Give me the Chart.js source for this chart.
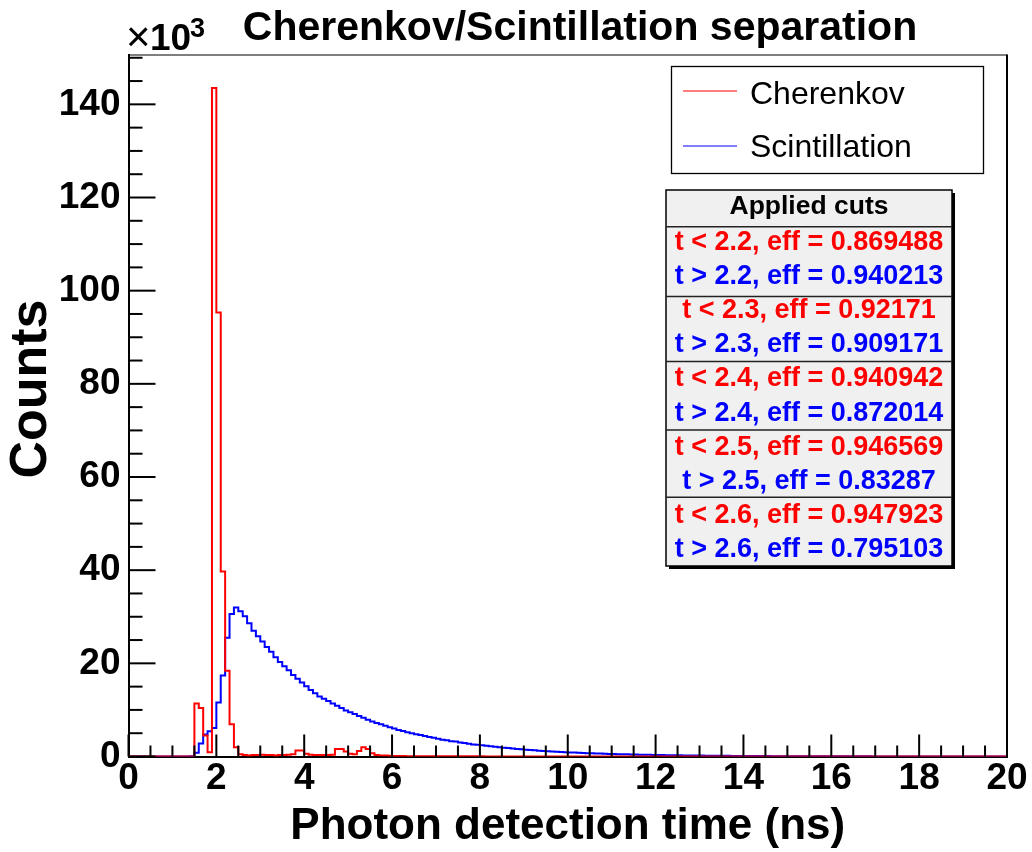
<!DOCTYPE html>
<html><head><meta charset="utf-8">
<script src="https://cdn.jsdelivr.net/npm/chart.js@4.4.0/dist/chart.umd.min.js"></script>
<style>html,body{margin:0;padding:0;background:#fff;overflow:hidden}</style>
</head><body>
<canvas id="c" width="1032" height="852" style="display:block;width:1032px;height:852px"></canvas>
<script>
// ---- data (counts in units of 10^3, 0.1 ns bins starting at 0 ns) ----
const binLow = 0;
const binWidth = 0.1;
const cherenkov = [
0,0,0,0,0,0,0,0,0,0,0,0,0,0,0,
11.4,10.4,4.5,0.9,143.5,95.3,39.7,18.4,6.9,2.0,0.5,
0.3,0.2,0.3,0.3,0.4,0.3,0.3,0.2,0.3,0.3,
0.4,0.5,1.3,1.3,0.6,0.4,0.3,0.3,0.3,0.3,
0.4,1.6,1.6,1.1,0.6,0.5,1.2,2.0,1.6,0.7,
0.3,0.2,0.2,0.15,0.1,
0.1,0.1,0.08,0.08,0.07,0.06,0.05,0.05,0.04,0.04,
0.03,0.03,0.03,0.03,0.03,0.03,0.03,0.03,0.03,0.03,
0.02,0.02,0.02,0.02,0.02,0.02,0.02,0.02,0.02,0.02,0.02,0.02,0.02,0.02,0.02,0.02,0.02,0.02,0.02,0.02,
0.01,0.01,0.01,0.01,0.01,0.01,0.01,0.01,0.01,0.01,0.01,0.01,0.01,0.01,0.01,0.01,0.01,0.01,0.01,0.01,0.01,0.01,0.01,0.01,0.01,0.01,0.01,0.01,0.01,0.01,
0,0,0,0,0,0,0,0,0,0,0,0,0,0,0,0,0,0,0,0,0,0,0,0,0,0,0,0,0,0,0,0,0,0,0,0,0,0,0,0,0,0,0,0,0,0,0,0,0,0,0,0,0,0,0,0,0,0,0,0,0,0,0,0,0,0,0,0,0
];
const scintillation = [
0,0,0,0,0,0,0,0,0,0,0,0,0,0,
0.05,
0.8,2.8,4.7,5.4,6.1,11.6,17.4,25.5,30.6,
32.0,31.2,30.1,28.6,27.0,25.8,24.7,23.5,22.5,21.3,20.3,19.4,18.5,17.5,16.7,15.9,15.1,14.3,13.6,12.9,12.4,11.9,
11.4,10.9,10.4,9.9,9.5,9.1,8.7,8.3,7.9,7.5,7.2,6.9,6.6,6.3,6.0,
5.7,5.5,5.2,5.0,4.8,4.6,4.4,4.2,4.0,3.8,3.6,3.5,3.3,3.2,3.0,2.9,2.75,2.6,2.5,2.4,
2.3,2.2,2.1,2.0,1.9,1.8,1.7,1.6,1.55,1.45,1.4,1.33,1.26,1.2,1.14,1.08,1.03,0.98,0.93,0.88,
0.84,0.8,0.76,0.72,0.68,0.65,0.62,0.59,0.56,0.53,0.5,0.48,0.46,0.43,0.41,0.39,0.37,0.35,0.33,0.32,
0.3,0.29,0.27,0.26,0.25,0.23,0.22,0.21,0.2,0.19,0.18,0.17,0.16,0.155,0.15,0.14,0.13,0.125,0.12,0.11,
0.105,0.1,0.095,0.09,0.085,0.08,0.077,0.073,0.07,0.066,
0.063,0.06,0.057,0.054,0.051,0.049,0.046,0.044,0.042,0.04,
0.038,0.036,0.034,0.033,0.031,0.03,0.028,0.027,0.025,0.024,
0.023,0.022,0.021,0.02,0.019,0.018,0.017,0.016,0.015,0.015,
0.014,0.013,0.013,0.012,0.011,0.011,0.01,0.01,0.009,0.009,
0.008,0.008,0.008,0.007,0.007,0.006,0.006,0.006,0.005
];
const xTickLabels = [0,2,4,6,8,10,12,14,16,18,20];
const yTickLabels = [0,20,40,60,80,100,120,140];
const seriesNames = ['Cherenkov','Scintillation'];
const cutTimes = ['2.2','2.3','2.4','2.5','2.6'];
const cherenkovEff = ['0.869488','0.92171','0.940942','0.946569','0.947923'];
const scintillationEff = ['0.940213','0.909171','0.872014','0.83287','0.795103'];

// ---- styling ----
const FAM = '"Liberation Sans", Arial, Helvetica, sans-serif';
const RED = '#ff0000', BLUE = '#0000ff';

function histPoints(vals){
  const pts = vals.map((v,i)=>({x: binLow + i*binWidth, y: v}));
  pts.push({x: binLow + vals.length*binWidth, y: vals[vals.length-1]});
  return pts;
}

const decor = {
  id: 'decor',
  afterDatasetsDraw(chart){
    const ctx = chart.ctx, xs = chart.scales.x, ys = chart.scales.y;
    const a = chart.chartArea;
    ctx.save();
    ctx.strokeStyle = '#000';
    ctx.lineWidth = 1.2;
    ctx.beginPath(); ctx.moveTo(a.left, a.top+0.5); ctx.lineTo(a.right, a.top+0.5); ctx.stroke();
    ctx.lineWidth = 2;
    ctx.beginPath(); ctx.moveTo(a.right, a.top); ctx.lineTo(a.right, a.bottom); ctx.stroke();
    ctx.lineWidth = 2;
    for (let k = 0; k <= 40; k++) {
      const px = xs.getPixelForValue(k*0.5);
      const len = (k % 4 === 0) ? 22 : 11;
      ctx.beginPath(); ctx.moveTo(px, a.bottom); ctx.lineTo(px, a.bottom - len); ctx.stroke();
    }
    for (let k = 0; k*5 <= ys.max; k++) {
      const py = ys.getPixelForValue(k*5);
      const len = (k % 4 === 0) ? 27 : 14;
      ctx.beginPath(); ctx.moveTo(a.left, py); ctx.lineTo(a.left + len, py); ctx.stroke();
    }
    ctx.restore();
  },
  afterDraw(chart){
    const ctx = chart.ctx;
    ctx.save();
    ctx.fillStyle = '#000';
    // title
    ctx.font = 'bold 41px ' + FAM;
    ctx.textAlign = 'center'; ctx.textBaseline = 'alphabetic';
    ctx.fillText('Cherenkov/Scintillation separation', 580, 39.5);
    // x10^3
    ctx.textAlign = 'left';
    ctx.font = '42px ' + FAM;
    ctx.fillText('\u00d7', 126, 51);
    ctx.font = 'bold 37px ' + FAM;
    ctx.fillText('10', 150, 50);
    ctx.font = 'bold 27px ' + FAM;
    ctx.fillText('3', 190, 37);
    // y axis title
    ctx.save();
    ctx.translate(46, 389); ctx.rotate(-Math.PI/2);
    ctx.textAlign = 'center';
    ctx.font = 'bold 52px ' + FAM;
    ctx.fillText('Counts', 0, 0);
    ctx.restore();

    // legend
    const lx = 671, ly = 66, lw = 312, lh = 107;
    ctx.fillStyle = '#fff'; ctx.fillRect(lx, ly, lw, lh);
    ctx.strokeStyle = '#000'; ctx.lineWidth = 1.3; ctx.strokeRect(lx+0.5, ly+0.5, lw, lh);
    const legRows = [{name: seriesNames[0], c: RED, y: 91, base: 104}, {name: seriesNames[1], c: BLUE, y: 146, base: 157}];
    ctx.font = '32px ' + FAM; ctx.textAlign = 'left';
    legRows.forEach(r => {
      ctx.strokeStyle = r.c; ctx.lineWidth = 1.2;
      ctx.beginPath(); ctx.moveTo(683, r.y); ctx.lineTo(737, r.y); ctx.stroke();
      ctx.fillStyle = '#000'; ctx.fillText(r.name, 750, r.base);
    });

    // stats box "Applied cuts"
    const bx = 666, by = 190, bw = 286, bh = 376;
    ctx.fillStyle = '#000'; ctx.fillRect(bx+3, by+3, bw, bh);
    ctx.fillStyle = '#f0f0f0'; ctx.fillRect(bx, by, bw, bh);
    ctx.strokeStyle = '#000'; ctx.lineWidth = 1.5; ctx.strokeRect(bx, by, bw, bh);
    const cx = bx + bw/2;
    ctx.textAlign = 'center';
    ctx.font = 'bold 26.5px ' + FAM;
    ctx.fillStyle = '#000';
    ctx.fillText('Applied cuts', cx, 213.5);
    const seps = [226.7, 296.5, 361.5, 430, 497.3];
    ctx.lineWidth = 1.5; ctx.strokeStyle = '#222';
    seps.forEach(s => { ctx.beginPath(); ctx.moveTo(bx, s); ctx.lineTo(bx+bw, s); ctx.stroke(); });
    ctx.font = 'bold 27px ' + FAM;
    cutTimes.forEach((t, j) => {
      const b1 = 249.5 + 34.2*(2*j), b2 = 249.5 + 34.2*(2*j+1);
      ctx.fillStyle = RED;
      ctx.fillText('t < ' + t + ', eff = ' + cherenkovEff[j], cx, b1);
      ctx.fillStyle = BLUE;
      ctx.fillText('t > ' + t + ', eff = ' + scintillationEff[j], cx, b2);
    });
    ctx.restore();
  }
};

new Chart(document.getElementById('c'), {
  type: 'line',
  data: {
    datasets: [
      {label: seriesNames[0], data: histPoints(cherenkov), borderColor: RED, borderWidth: 2, stepped: 'before', pointRadius: 0, fill: false, tension: 0},
      {label: seriesNames[1], data: histPoints(scintillation), borderColor: BLUE, borderWidth: 2, stepped: 'before', pointRadius: 0, fill: false, tension: 0}
    ]
  },
  options: {
    responsive: false, animation: false, devicePixelRatio: 1,
    layout: {padding: {left: 0, right: 25, top: 54.5, bottom: 0}},
    plugins: {legend: {display: false}, tooltip: {enabled: false}, title: {display: false}},
    scales: {
      x: {
        type: 'linear', min: 0, max: 20,
        afterBuildTicks: s => { s.ticks = xTickLabels.map(v => ({value: v})); },
        ticks: {color: '#000', font: {family: FAM, size: 37, weight: 'bold', lineHeight: 1}, padding: 4, maxRotation: 0, autoSkip: false, includeBounds: false},
        grid: {display: false, drawTicks: false},
        border: {display: true, color: '#000', width: 2},
        title: {display: true, text: 'Photon detection time (ns)', color: '#000', font: {family: FAM, size: 44, weight: 'bold', lineHeight: 1}, padding: {top: 0, bottom: 3}},
        afterFit: s => { s.height = 95.5; s.paddingLeft = 0; s.paddingRight = 0; }
      },
      y: {
        type: 'linear', min: 0, max: 150.7,
        afterBuildTicks: s => { s.ticks = yTickLabels.map(v => ({value: v})); },
        ticks: {color: '#000', font: {family: FAM, size: 37, weight: 'bold'}, padding: 8, includeBounds: false},
        grid: {display: false, drawTicks: false},
        border: {display: true, color: '#000', width: 2},
        afterFit: s => { s.width = 128.5; s.paddingTop = 0; s.paddingBottom = 0; }
      }
    }
  },
  plugins: [decor]
});
</script>
</body></html>
